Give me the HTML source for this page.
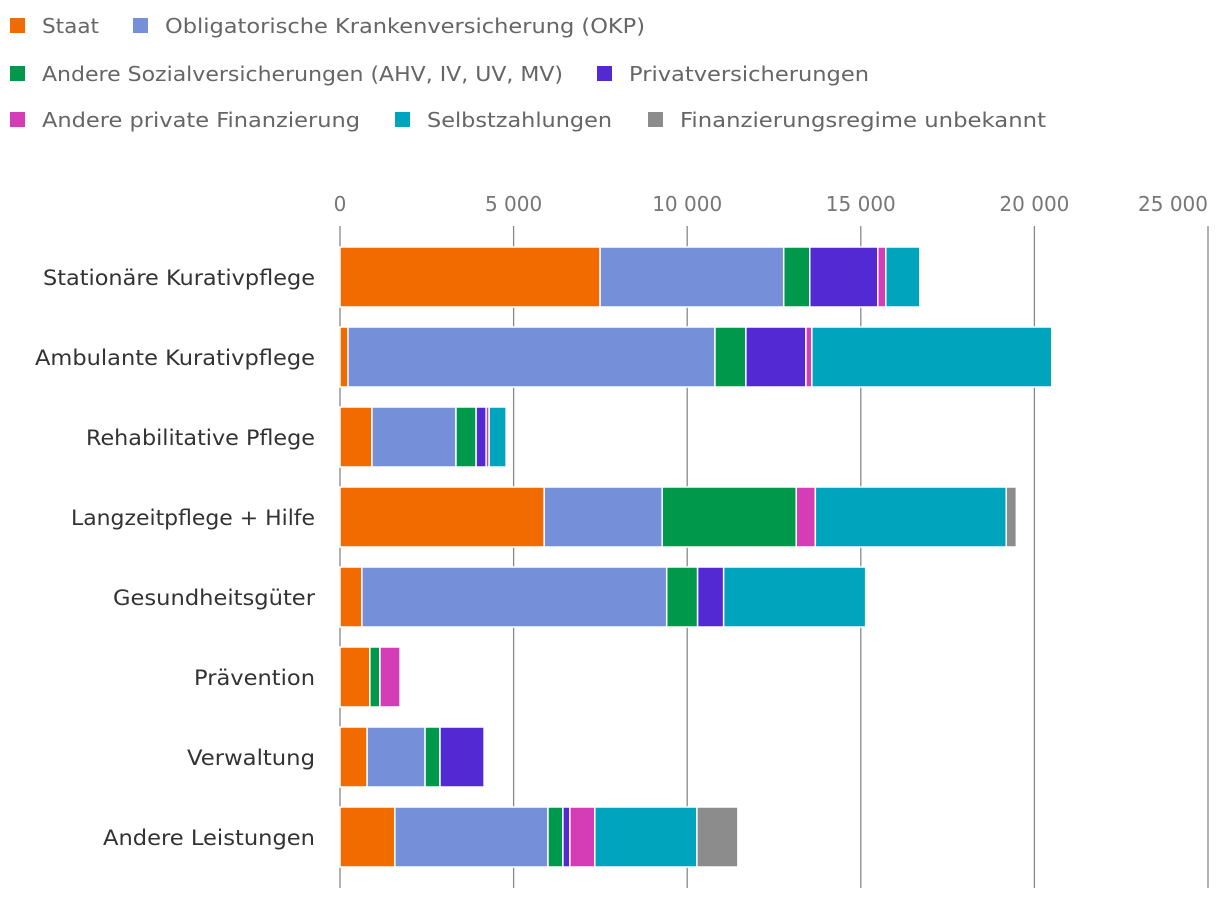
<!DOCTYPE html>
<html><head><meta charset="utf-8"><style>
body{margin:0;background:#fff;font-family:"DejaVu Sans","Liberation Sans",sans-serif}
svg text{font-family:"DejaVu Sans","Liberation Sans",sans-serif}
</style></head><body>
<svg id="chart" width="1220" height="898" xmlns="http://www.w3.org/2000/svg"></svg>
<script>
const categories=["Stationäre Kurativpflege","Ambulante Kurativpflege","Rehabilitative Pflege","Langzeitpflege + Hilfe","Gesundheitsgüter","Prävention","Verwaltung","Andere Leistungen"];
const seriesNames=["Staat","Obligatorische Krankenversicherung (OKP)","Andere Sozialversicherungen (AHV, IV, UV, MV)","Privatversicherungen","Andere private Finanzierung","Selbstzahlungen","Finanzierungsregime unbekannt"];
const staat=[7490,230,920,5880,630,860,780,1580];
const okp=[5290,10570,2420,3400,8780,0,1670,4410];
const sozial=[750,890,580,3860,890,290,430,430];
const privat=[1960,1730,290,0,750,0,1270,200];
const andPrivat=[230,170,85,550,0,580,0,720];
const selbst=[980,6910,490,5500,4090,0,0,2940];
const unbekannt=[0,0,0,290,0,0,0,1180];
const tickValues=[0,5000,10000,15000,20000,25000];
const tickLabels=["0","5 000","10 000","15 000","20 000","25 000"];
const series=[staat,okp,sozial,privat,andPrivat,selbst,unbekannt];
const colors=["#f26b00","#7590d9","#00984a","#5229d3","#d43db6","#00a4bc","#8c8c8c"];
const svg=document.getElementById('chart');
const NS="http://www.w3.org/2000/svg";
const x0=340,x1=1208,maxV=25000;
const xs=v=>x0+(x1-x0)*v/maxV;
const yc=i=>277+80*i;
function mk(t,a){const e=document.createElementNS(NS,t);for(const k in a)e.setAttribute(k,a[k]);svg.appendChild(e);return e;}
const legendPos=[[10,26],[133,26],[10,74],[597,74],[10,120],[395,120],[648,120]];
const legendW=[57,480,521,240,318,185,366];
seriesNames.forEach((n,i)=>{
 const r=mk('rect',{x:legendPos[i][0],y:legendPos[i][1]-8,width:15,height:15,fill:colors[i]});
 
 
 const t=mk('text',{x:legendPos[i][0]+32,y:legendPos[i][1]+7,'font-size':20,fill:'#666',textLength:legendW[i],lengthAdjust:'spacingAndGlyphs'});
 t.textContent=n;
 
 
});
tickValues.forEach((v,i)=>{
 const l=mk('line',{x1:xs(v),x2:xs(v),y1:226,y2:888,stroke:'#888','stroke-width':1.3});
 
 
 const last=i===tickValues.length-1;
 const t=mk('text',{x:last?xs(v):xs(v),y:211,'font-size':20,fill:'#777','text-anchor':last?'end':'middle'});
 t.textContent=tickLabels[i];
 
 
});
const catW=[272,280,229,244,202,121,128,212];
categories.forEach((c,i)=>{
 const t=mk('text',{x:315,y:yc(i)+8,'font-size':21,fill:'#333','text-anchor':'end',textLength:catW[i],lengthAdjust:'spacingAndGlyphs'});
 t.textContent=c;
 
 
 let acc=0;
 series.forEach((s,j)=>{
  const v=s[i]; if(!v)return;
  const r=mk('rect',{x:xs(acc),y:yc(i)-30,width:xs(acc+v)-xs(acc),height:60,fill:colors[j],stroke:'#fff','stroke-width':1.5});
  
  
  acc+=v;
 });
});
</script>
</body></html>
